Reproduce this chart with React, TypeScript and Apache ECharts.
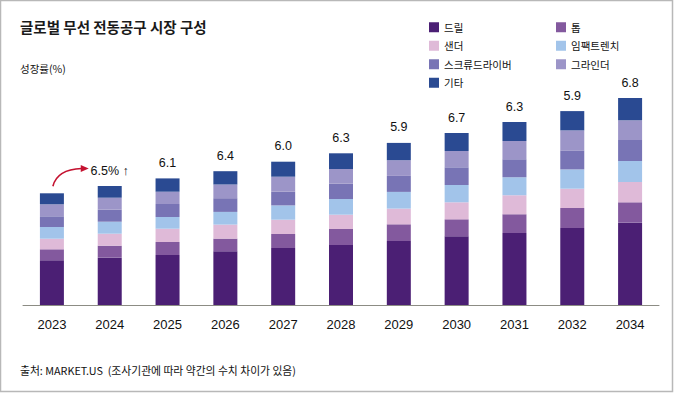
import React, { useEffect, useRef } from "react";
import * as echarts from "echarts";

const years = ["2023", "2024", "2025", "2026", "2027", "2028", "2029", "2030", "2031", "2032", "2034"];
const growth = ["", "6.5% ↑", "6.1", "6.4", "6.0", "6.3", "5.9", "6.7", "6.3", "5.9", "6.8"];

const drill = [44.7, 47.3, 50, 53.7, 57, 60, 64, 68.7, 72, 77, 82.3];
const saw = [11, 12, 13, 12.7, 14, 16, 16.7, 17, 18.7, 20, 20.4];
const sander = [10.6, 12, 13.3, 14, 14.3, 14.3, 15.7, 17, 19, 19.3, 20.3];
const impact = [11.7, 12, 11.7, 12.7, 14.3, 15.7, 16.7, 17.3, 18, 19.3, 21];
const screw = [10.7, 12, 13, 13.7, 13.7, 15.3, 16, 17.7, 18, 19, 21];
const grinder = [12, 12, 12.3, 13.7, 15, 14.7, 15.7, 16.3, 18.3, 20, 19.7];
const other = [11, 11.7, 13.3, 13.3, 15, 15.7, 17.3, 18, 19, 19.3, 22.3];

const seriesNames = ["드릴", "톱", "샌더", "임팩트렌치", "스크류드라이버", "그라인더", "기타"];
const seriesData = [drill, saw, sander, impact, screw, grinder, other];
const colors = ["#4b1f74", "#83599e", "#dfbad8", "#a2c4ea", "#7874b5", "#9c95c8", "#2a4a92"];

const KR = "'Noto Sans CJK KR', 'Noto Sans', sans-serif";
const LAT = "'Liberation Sans', Arial, sans-serif";

export default function App() {
  const ref = useRef<HTMLDivElement>(null);
  useEffect(() => {
    document.body.style.margin = "0";
    const chart = echarts.init(ref.current!, null, { renderer: "svg" });
    const series = seriesNames.map((name, i) => ({
      name,
      type: "bar",
      stack: "total",
      barWidth: 24,
      data: seriesData[i],
      itemStyle: { color: colors[i] },
      label:
        i === seriesNames.length - 1
          ? {
              show: true,
              position: "top",
              distance: 9,
              fontSize: 12.5,
              color: "#111",
              fontFamily: LAT,
              formatter: (p: any) => growth[p.dataIndex],
            }
          : { show: false },
    }));
    chart.setOption({
      animation: false,
      grid: { left: 23, right: 15, top: 85, bottom: 88, containLabel: false },
      xAxis: {
        type: "category",
        data: years,
        axisLine: { lineStyle: { color: "#8c8c84", width: 1 } },
        axisTick: { show: false },
        axisLabel: { fontSize: 13, color: "#111", margin: 13, fontFamily: LAT },
      },
      yAxis: { type: "value", min: 0, max: 220, show: false },
      legend: [
        {
          orient: "vertical",
          left: 429,
          top: 22,
          padding: 0,
          itemWidth: 10,
          itemHeight: 10,
          itemGap: 8,
          icon: "rect",
          data: ["드릴", "샌더", "스크류드라이버", "기타"],
          textStyle: { fontSize: 10.5, color: "#111", fontFamily: KR },
        },
        {
          orient: "vertical",
          left: 556,
          top: 22,
          padding: 0,
          itemWidth: 10,
          itemHeight: 10,
          itemGap: 8,
          icon: "rect",
          data: ["톱", "임팩트렌치", "그라인더"],
          textStyle: { fontSize: 10.5, color: "#111", fontFamily: KR },
        },
      ],
      series,
    });
    const total0 = seriesData.reduce((s, arr) => s + arr[0], 0);
    const total1 = seriesData.reduce((s, arr) => s + arr[1], 0);
    const p0 = chart.convertToPixel({ gridIndex: 0 }, [0, total0]) as number[];
    const p1 = chart.convertToPixel({ gridIndex: 0 }, [1, total1]) as number[];
    const sx = p0[0] + 1;
    const sy = p0[1] - 7;
    const ty = p1[1] - 17.5;
    const tx = p1[0] - 21;
    chart.setOption({
      graphic: [
        {
          type: "rect",
          shape: { x: 0.5, y: 0.5, width: 672, height: 391 },
          style: { fill: "none", stroke: "#b8b8b8", lineWidth: 1.5 },
          silent: true,
        },
        {
          type: "text",
          x: 20,
          y: 26.5,
          style: { text: "글로벌 무선 전동공구 시장 구성", fontSize: 14.5, fontWeight: "bold", fill: "#1a1a1a", fontFamily: KR, verticalAlign: "middle" },
        },
        {
          type: "text",
          x: 20,
          y: 68.5,
          style: { text: "성장률(%)", fontSize: 10.5, fill: "#111", fontFamily: KR, verticalAlign: "middle" },
        },
        {
          type: "text",
          x: 20,
          y: 369.5,
          style: { text: "출처: MARKET.US  (조사기관에 따라 약간의 수치 차이가 있음)", fontSize: 10.8, fill: "#111", fontFamily: KR, verticalAlign: "middle" },
        },
        {
          type: "bezierCurve",
          shape: { x1: sx, y1: sy, x2: tx - 7, y2: ty, cpx1: sx + 4, cpy1: ty + 1 },
          style: { stroke: "#c41230", lineWidth: 1.6, fill: "none" },
        },
        {
          type: "polygon",
          shape: { points: [[tx, ty], [tx - 8, ty - 3.5], [tx - 8, ty + 3.5]] },
          style: { fill: "#c41230" },
        },
      ],
    });
    return () => chart.dispose();
  }, []);
  return <div ref={ref} style={{ width: 674, height: 393 }} />;
}
